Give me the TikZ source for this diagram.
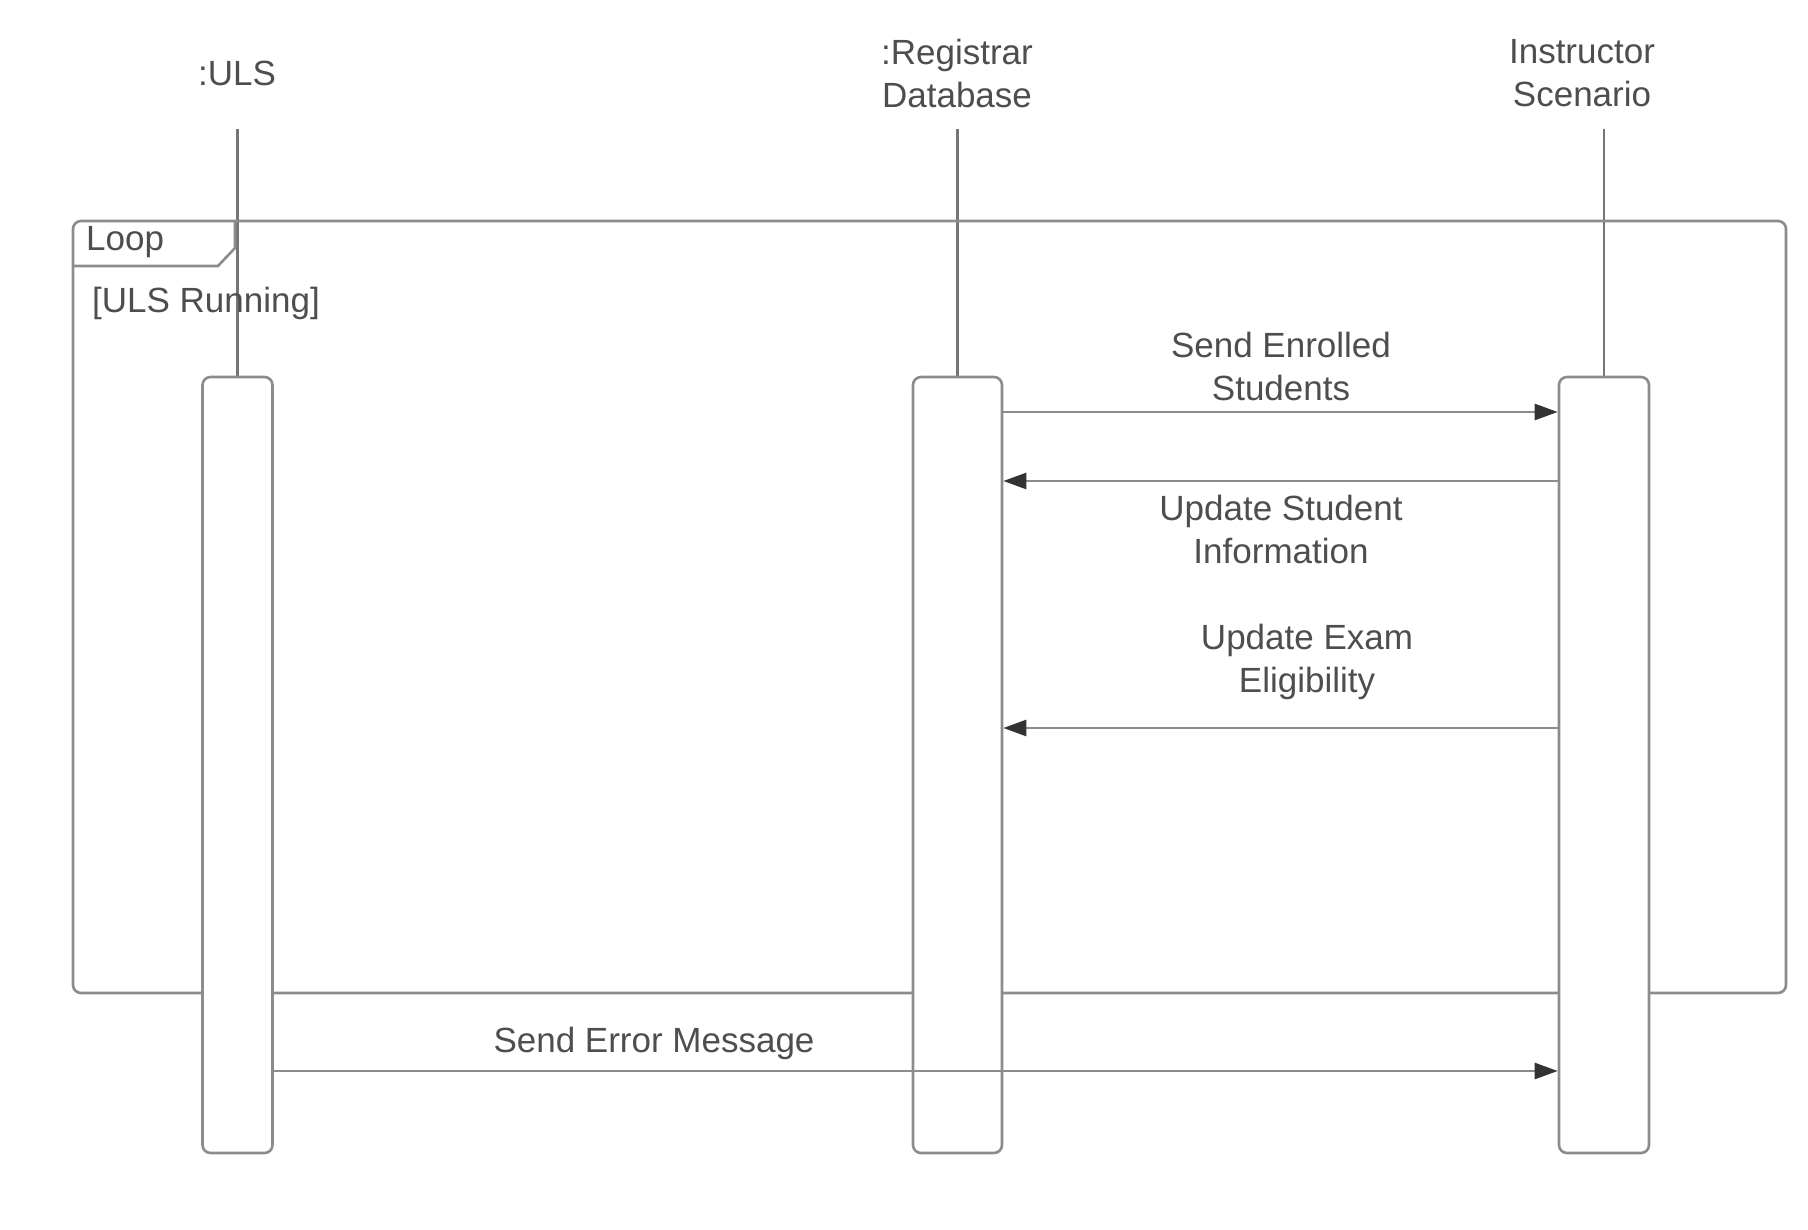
\documentclass[tikz,border=0pt]{standalone}
\usepackage{fontspec}
\setmainfont{Liberation Sans}
\usetikzlibrary{arrows.meta}
\definecolor{ln}{HTML}{8C8C8C}
\definecolor{lf}{HTML}{757575}
\definecolor{tx}{HTML}{4E4E4E}
\definecolor{hd}{HTML}{333333}
\begin{document}
\begin{tikzpicture}[x=1pt,y=-1pt,
  lbl/.style={text=tx,font=\fontsize{35}{43}\selectfont,align=center,inner sep=0pt},
  actbox/.style={draw=ln,line width=2.6pt,fill=white,rounded corners=8pt,minimum height=776pt,inner sep=0pt},
  lifeline/.style={draw=lf,line width=2.2pt},
  framebox/.style={draw=ln,line width=2.6pt},
  msg/.style={draw=ln,line width=2.6pt,-{Triangle[length=23pt,width=16pt,fill=hd,color=hd]}}]
\useasboundingbox (0,0) rectangle (1808,1230);
\fill[white] (0,0) rectangle (1808,1230);
% heads
\node[lbl] (uls) at (237,73) {:ULS};
\node[lbl] (reg) at (957,73) {:Registrar\\Database};
\node[lbl] (ins) at (1582,73) {Instructor\\Scenario};
\coordinate (ulstop) at (237.5,129);
\coordinate (regtop) at (957.5,129);
\coordinate (instop) at (1604,129);
% lifelines
\draw[lifeline] (ulstop) -- (237.5,377);
\draw[lifeline] (regtop) -- (957.5,377);
\draw[lifeline] (instop) -- (1604,377);
% loop frame
\draw[framebox,rounded corners=8pt] (73,221) rectangle (1786,993);
\draw[framebox] (73,266) -- (218,266) -- (235,248) -- (235,221);
\node[lbl,anchor=west] (looplbl) at (86,242) {Loop};
\node[lbl,anchor=west] (guard) at (92,303) {[ULS Running]};
% activation boxes
\node[actbox,minimum width=70pt] (ulsbox) at (237.5,765) {};
\node[actbox,minimum width=89pt] (regbox) at (957.5,765) {};
\node[actbox,minimum width=90pt] (insbox) at (1604,765) {};
% messages
\coordinate (m1) at (0,412);
\coordinate (m2) at (0,481);
\coordinate (m3) at (0,728);
\coordinate (m4) at (0,1071);
\draw[msg] (regbox.east |- m1) -- (insbox.west |- m1);
\draw[msg] (insbox.west |- m2) -- (regbox.east |- m2);
\draw[msg] (insbox.west |- m3) -- (regbox.east |- m3);
\draw[msg] (ulsbox.east |- m4) -- (insbox.west |- m4);
\node[lbl] (l1) at (1281,366) {Send Enrolled\\Students};
\node[lbl] (l2) at (1281,529) {Update Student\\Information};
\node[lbl] (l3) at (1307,662) {Update Exam\\Eligibility};
\node[lbl] (l4) at (654,1043) {Send Error Message};
\end{tikzpicture}
\end{document}
